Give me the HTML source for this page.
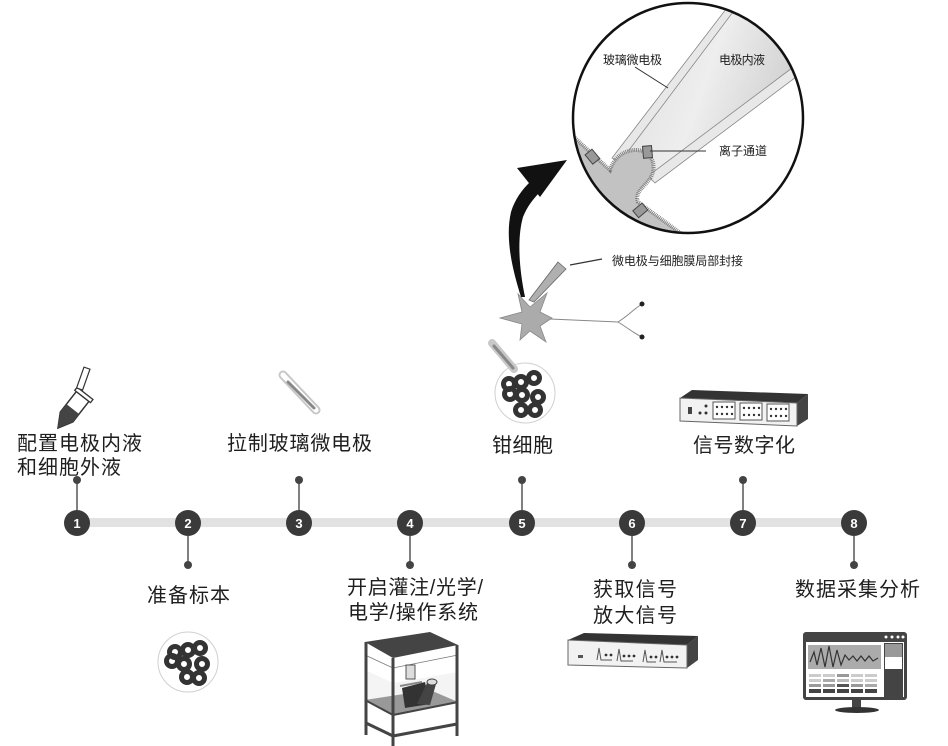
<!DOCTYPE html>
<html><head><meta charset="utf-8"><style>
html,body{margin:0;padding:0;background:#fff;}
svg{display:block;}
text{font-family:"Liberation Sans","Noto Sans CJK SC",sans-serif;fill:#1e1e1e;}
</style></head><body>
<svg width="948" height="746" viewBox="0 0 948 746" xmlns="http://www.w3.org/2000/svg">
<defs>
<clipPath id="cc"><circle cx="688" cy="118" r="115"/></clipPath>
<linearGradient id="pg" x1="0" y1="0" x2="1" y2="0.3">
<stop offset="0" stop-color="#dcdcdc"/><stop offset="0.5" stop-color="#eeeeee"/><stop offset="1" stop-color="#c8c8c8"/>
</linearGradient>
</defs>
<rect width="948" height="746" fill="#fff"/>

<!-- magnified circle -->
<g clip-path="url(#cc)">
<rect x="560" y="0" width="260" height="240" fill="#fff"/>
<polygon points="742,0 830,0 830,50 800,62 648,176 620,162" fill="url(#pg)"/>
<polygon points="733,0 742,0 620,162 612,158" fill="#e8e8e8" stroke="#888" stroke-width="0.8"/>
<polygon points="800,62 830,45 830,52 808,68 655,183 648,176" fill="#e8e8e8" stroke="#888" stroke-width="0.8"/>
<path d="M560,128 L575,138 L610,170 C613,160 622,150 636,150 C650,150 658,164 651,177 C645,187 634,192 638,202 L690,240 L560,240 Z" fill="#c2c2c2" stroke="#777" stroke-width="4" stroke-dasharray="0.8 1"/>
<path d="M562,132 L575,141 L611,174 C614,163 622,154 636,154 C648,154 654,165 648,175 C641,186 630,192 635,204 L690,244 L560,244 Z" fill="#c2c2c2"/>
<rect x="588" y="151" width="9" height="12" fill="#999" stroke="#444" stroke-width="1" transform="rotate(-40 592 157)"/>
<rect x="643" y="146" width="9" height="12" fill="#999" stroke="#444" stroke-width="1" transform="rotate(-5 647 152)"/>
<rect x="636" y="204" width="9" height="12" fill="#999" stroke="#444" stroke-width="1" transform="rotate(50 640 210)"/>
</g>
<circle cx="688" cy="118" r="115" fill="none" stroke="#111" stroke-width="2.5"/>
<line x1="635" y1="67" x2="668" y2="88" stroke="#333" stroke-width="1"/>
<line x1="650" y1="151" x2="706" y2="151" stroke="#333" stroke-width="1"/>
<text x="603" y="64" font-size="12" textLength="59">玻璃微电极</text>
<text x="719" y="64" font-size="12" textLength="46">电极内液</text>
<text x="719" y="155" font-size="12" textLength="48">离子通道</text>

<!-- curved arrow -->
<path d="M521,297 C512,268 505,238 511,212 C515,199 522,190 529,183 L540,192 C533,199 527,207 523,217 C517,238 519,268 525,297 Z" fill="#111"/>
<polygon points="567,160 517,168 540,197" fill="#111"/>

<!-- neuron -->
<path d="M500,318 L522,312 L518,294 L530,307 L547,293 L540,312 L552,318 L540,326 L546,342 L530,331 L520,340 L522,324 Z" fill="#ababab" stroke="#888" stroke-width="0.8"/>
<path d="M550,319 L618,322 C628,316 635,308 642,304 M618,322 C628,328 635,334 642,337" fill="none" stroke="#888" stroke-width="1"/>
<circle cx="642" cy="304" r="2.5" fill="#222"/>
<circle cx="642" cy="337" r="2.5" fill="#222"/>
<polygon points="558,262 566,269 534,302 529,300" fill="#b0b0b0" stroke="#666" stroke-width="0.8"/>
<line x1="570" y1="265" x2="602" y2="259" stroke="#333" stroke-width="1.2"/>
<text x="612" y="265" font-size="12" textLength="131">微电极与细胞膜局部封接</text>

<!-- timeline -->
<rect x="77" y="518" width="777" height="9" fill="#e2e2e2"/>
<g stroke="#555" stroke-width="1.5">
<line x1="77" y1="480" x2="77" y2="510"/>
<line x1="299" y1="480" x2="299" y2="510"/>
<line x1="522" y1="480" x2="522" y2="510"/>
<line x1="743" y1="480" x2="743" y2="510"/>
<line x1="188" y1="536" x2="188" y2="565"/>
<line x1="410" y1="536" x2="410" y2="565"/>
<line x1="632" y1="536" x2="632" y2="565"/>
<line x1="854" y1="536" x2="854" y2="565"/>
</g>
<g fill="#444">
<circle cx="77" cy="480" r="4"/><circle cx="299" cy="480" r="4"/><circle cx="522" cy="480" r="4"/><circle cx="743" cy="480" r="4"/>
<circle cx="188" cy="565" r="4"/><circle cx="410" cy="565" r="4"/><circle cx="632" cy="565" r="4"/><circle cx="854" cy="565" r="4"/>
</g>
<g fill="#3a3a3a">
<circle cx="77" cy="523" r="13"/><circle cx="188" cy="523" r="13"/><circle cx="299" cy="523" r="13"/><circle cx="410" cy="523" r="13"/>
<circle cx="522" cy="523" r="13"/><circle cx="632" cy="523" r="13"/><circle cx="743" cy="523" r="13"/><circle cx="854" cy="523" r="13"/>
</g>
<g font-size="13" font-weight="bold" text-anchor="middle">
<text x="77" y="528" style="fill:#fff">1</text><text x="188" y="528" style="fill:#fff">2</text>
<text x="299" y="528" style="fill:#fff">3</text><text x="410" y="528" style="fill:#fff">4</text>
<text x="522" y="528" style="fill:#fff">5</text><text x="632" y="528" style="fill:#fff">6</text>
<text x="743" y="528" style="fill:#fff">7</text><text x="854" y="528" style="fill:#fff">8</text>
</g>

<!-- labels -->
<g font-size="20">
<text x="17" y="450" textLength="125">配置电极内液</text>
<text x="17" y="474" textLength="104">和细胞外液</text>
<text x="227" y="450" textLength="145">拉制玻璃微电极</text>
<text x="492" y="452" textLength="61">钳细胞</text>
<text x="693" y="452" textLength="102">信号数字化</text>
<text x="147" y="602" textLength="83">准备标本</text>
<text x="347" y="594" textLength="136">开启灌注/光学/</text>
<text x="348" y="619" textLength="130">电学/操作系统</text>
<text x="593" y="596" textLength="84">获取信号</text>
<text x="593" y="622" textLength="84">放大信号</text>
<text x="795" y="596" textLength="125">数据采集分析</text>
</g>

<!-- icon 1: tube -->
<g transform="translate(58,428) rotate(-52)">
<path d="M0,0 L14,-8 L40,-8 L40,8 L14,8 Z" fill="#fff" stroke="#333" stroke-width="1.5"/>
<path d="M0,0 L14,-8 L24,-8 L24,8 L14,8 Z" fill="#444"/>
<rect x="40" y="-10" width="4" height="20" fill="#fff" stroke="#333" stroke-width="1.3"/>
<polygon points="43,-10 64,-17 66,-11 45,-4" fill="#fff" stroke="#333" stroke-width="1.2"/>
</g>

<!-- icon 3: pipette -->
<line x1="283" y1="375" x2="316" y2="410" stroke="#c8c8c8" stroke-width="9" stroke-linecap="round"/>
<line x1="283" y1="375" x2="316" y2="410" stroke="#fff" stroke-width="5" stroke-linecap="round"/>
<line x1="288" y1="382" x2="314" y2="408" stroke="#888" stroke-width="3" stroke-linecap="round"/>

<!-- icon 5: cells with pipette -->
<circle cx="525" cy="393" r="30" fill="#fff" stroke="#d0d0d0" stroke-width="1"/>
<line x1="492" y1="343" x2="514" y2="369" stroke="#c8c8c8" stroke-width="8" stroke-linecap="round"/>
<line x1="494" y1="346" x2="513" y2="368" stroke="#888" stroke-width="3" stroke-linecap="round"/>
<g fill="none" stroke="#333" stroke-width="5">
<circle cx="509" cy="384" r="5.5"/><circle cx="521" cy="382" r="5.5"/><circle cx="534" cy="378" r="5.5"/>
<circle cx="510" cy="394" r="5.5"/><circle cx="522" cy="395" r="5.5"/><circle cx="538" cy="397" r="5.5"/>
<circle cx="521" cy="410" r="5.5"/><circle cx="535" cy="410" r="5.5"/>
</g>

<!-- icon 2: cells -->
<circle cx="188" cy="662" r="30" fill="#fff" stroke="#d0d0d0" stroke-width="1"/>
<g fill="none" stroke="#333" stroke-width="5">
<circle cx="175" cy="652" r="5.5"/><circle cx="188" cy="650" r="5.5"/><circle cx="200" cy="648" r="5.5"/>
<circle cx="172" cy="661" r="5.5"/><circle cx="184" cy="664" r="5.5"/><circle cx="202" cy="664" r="5.5"/>
<circle cx="187" cy="677" r="5.5"/><circle cx="199" cy="678" r="5.5"/>
</g>

<!-- icon 7: rack digitizer -->
<polygon points="680,398 692,390 808,394 797,403" fill="#333"/>
<polygon points="797,403 808,394 808,419 797,426" fill="#444"/>
<polygon points="680,398 797,403 797,426 680,421" fill="#f2f2f2" stroke="#666" stroke-width="1"/>
<rect x="688" y="407" width="4" height="7" fill="#444"/>
<circle cx="700" cy="413" r="1.5" fill="#333"/><circle cx="706" cy="413" r="1.5" fill="#333"/><circle cx="706" cy="406" r="1.5" fill="#333"/>
<g fill="#fff" stroke="#555" stroke-width="1">
<rect x="713" y="402" width="22" height="17"/><rect x="740" y="403" width="22" height="17"/><rect x="767" y="404" width="22" height="17"/>
</g>
<g fill="#333">
<circle cx="717" cy="407" r="1.2"/><circle cx="722" cy="407" r="1.2"/><circle cx="727" cy="407" r="1.2"/><circle cx="732" cy="407" r="1.2"/>
<circle cx="717" cy="414" r="1.2"/><circle cx="722" cy="414" r="1.2"/><circle cx="727" cy="414" r="1.2"/><circle cx="732" cy="414" r="1.2"/>
<circle cx="744" cy="408" r="1.2"/><circle cx="749" cy="408" r="1.2"/><circle cx="754" cy="408" r="1.2"/><circle cx="759" cy="408" r="1.2"/>
<circle cx="744" cy="415" r="1.2"/><circle cx="749" cy="415" r="1.2"/><circle cx="754" cy="415" r="1.2"/><circle cx="759" cy="415" r="1.2"/>
<circle cx="771" cy="409" r="1.2"/><circle cx="776" cy="409" r="1.2"/><circle cx="781" cy="409" r="1.2"/><circle cx="786" cy="409" r="1.2"/>
<circle cx="771" cy="416" r="1.2"/><circle cx="776" cy="416" r="1.2"/><circle cx="781" cy="416" r="1.2"/><circle cx="786" cy="416" r="1.2"/>
</g>

<!-- icon 6: amplifier -->
<polygon points="568,640 584,633 698,636 687,645" fill="#333"/>
<polygon points="687,645 698,636 698,660 687,668" fill="#444"/>
<polygon points="568,640 687,645 687,668 568,665" fill="#f2f2f2" stroke="#666" stroke-width="1"/>
<rect x="578" y="655" width="5" height="3" fill="#555"/>
<path d="M597,660 L599,648 L601,660 L612,660 M617,661 L619,649 L621,661 L633,661 M643,662 L645,650 L647,662 L656,662 M660,662 L662,650 L664,662 L677,662" fill="none" stroke="#555" stroke-width="1"/>
<g fill="#333">
<circle cx="606" cy="655" r="1.4"/><circle cx="611" cy="655" r="1.4"/><circle cx="624" cy="656" r="1.4"/><circle cx="629" cy="656" r="1.4"/><circle cx="634" cy="656" r="1.4"/>
<circle cx="651" cy="657" r="1.4"/><circle cx="656" cy="657" r="1.4"/><circle cx="667" cy="657" r="1.4"/><circle cx="672" cy="657" r="1.4"/><circle cx="677" cy="657" r="1.4"/>
</g>

<!-- icon 8: monitor -->
<rect x="803" y="632" width="104" height="68" rx="3" fill="#444"/>
<rect x="806" y="642" width="98" height="55" fill="#fff"/>
<circle cx="886" cy="637" r="1.5" fill="#fff"/><circle cx="892" cy="637" r="1.5" fill="#fff"/><circle cx="898" cy="637" r="1.5" fill="#fff"/><circle cx="903" cy="637" r="1.5" fill="#fff"/>
<rect x="808" y="645" width="73" height="24" fill="#ababab"/>
<path d="M810,662 L814,652 L817,665 L821,648 L825,667 L829,646 L833,667 L837,650 L841,665 L845,655 L849,660 L853,656 L857,661 L861,656 L865,661 L869,656 L873,661 L878,658" fill="none" stroke="#333" stroke-width="1.2"/>
<rect x="884" y="643" width="19" height="54" fill="#444"/>
<rect x="885" y="644" width="17" height="13" fill="#999"/>
<rect x="885" y="657" width="17" height="12" fill="#fff"/>
<g>
<rect x="809" y="674" width="12" height="3" fill="#ccc"/><rect x="823" y="674" width="12" height="3" fill="#ccc"/><rect x="837" y="674" width="12" height="3" fill="#999"/><rect x="851" y="674" width="12" height="3" fill="#ccc"/><rect x="865" y="674" width="12" height="3" fill="#ccc"/>
<rect x="809" y="679" width="12" height="3" fill="#ccc"/><rect x="823" y="679" width="12" height="3" fill="#aaa"/><rect x="837" y="679" width="12" height="3" fill="#bbb"/><rect x="851" y="679" width="12" height="3" fill="#ccc"/><rect x="865" y="679" width="12" height="3" fill="#ccc"/>
<rect x="809" y="684" width="12" height="3" fill="#999"/><rect x="823" y="684" width="12" height="3" fill="#999"/><rect x="837" y="684" width="12" height="3" fill="#555"/><rect x="851" y="684" width="12" height="3" fill="#999"/><rect x="865" y="684" width="12" height="3" fill="#aaa"/>
<rect x="809" y="689" width="12" height="4" fill="#444"/><rect x="823" y="689" width="12" height="4" fill="#444"/><rect x="837" y="689" width="12" height="4" fill="#444"/><rect x="851" y="689" width="12" height="4" fill="#444"/><rect x="865" y="689" width="12" height="4" fill="#444"/>
</g>
<rect x="852" y="700" width="9" height="8" fill="#444"/>
<ellipse cx="857" cy="710" rx="22" ry="3" fill="#333"/>

<!-- icon 4: cabinet with microscope -->
<polygon points="393,683 458,672 458,700 393,713 365,699 365,670" fill="#f4f4f4"/>
<polygon points="365,642 430,632 458,645 393,658" fill="#444"/>
<polygon points="365,700 430,690 458,702 393,715" fill="#999"/>
<path d="M365,655 L393,668 L458,655" fill="none" stroke="#777" stroke-width="0.8"/>
<g stroke="#444" stroke-width="3">
<line x1="366" y1="642" x2="366" y2="735"/>
<line x1="393" y1="658" x2="393" y2="746"/>
<line x1="457" y1="645" x2="457" y2="736"/>
<line x1="366" y1="723" x2="393" y2="736"/>
<line x1="393" y1="736" x2="457" y2="724"/>
</g>
<g stroke="#444" stroke-width="2" fill="none">
<line x1="365" y1="700" x2="393" y2="715"/>
<line x1="393" y1="715" x2="458" y2="702"/>
</g>
<rect x="406" y="665" width="9" height="14" fill="#ddd" stroke="#555" stroke-width="1"/>
<path d="M402,688 L425,682 L430,704 L405,708 Z" fill="#333"/>
<path d="M417,704 L428,681 L436,684 L430,705 Z" fill="#444"/>
<ellipse cx="432" cy="682" rx="5" ry="3" fill="#ddd" stroke="#444"/>
<path d="M400,686 L422,682" stroke="#888" stroke-width="2"/>
</svg>
</body></html>
